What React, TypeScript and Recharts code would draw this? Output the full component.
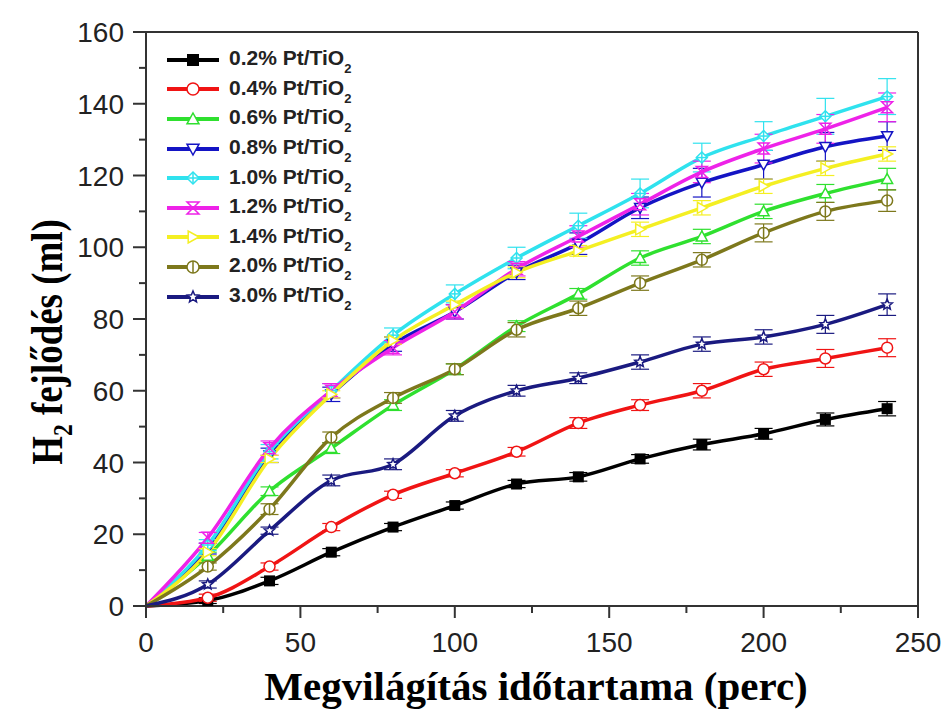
import { LineChart, Line, XAxis, YAxis, ErrorBar, Legend, ReferenceLine, Label } from 'recharts'

// Illumination time in minutes
const TIME = [0, 20, 40, 60, 80, 100, 120, 140, 160, 180, 200, 220, 240]

// H2 evolved (ml) per Pt loading, with standard deviations
const PT02 = [0, 1.5, 7, 15, 22, 28, 34, 36, 41, 45, 48, 52, 55]
const PT02_ERR = [0, 0.8, 1, 1, 1, 1, 1, 1.2, 1.2, 1.5, 1.5, 1.8, 2]
const PT04 = [0, 2.3, 11, 22, 31, 37, 43, 51, 56, 60, 66, 69, 72]
const PT04_ERR = [0, 1, 1, 1, 1, 1, 1.2, 1.5, 1.5, 2, 2, 2.5, 2.5]
const PT06 = [0, 14, 32, 44, 56, 66, 78, 87, 97, 103, 110, 115, 119]
const PT06_ERR = [0, 1, 1.2, 1.5, 1.5, 1.5, 1.5, 1.5, 2, 2, 2, 2.5, 3]
const PT08 = [0, 16, 42, 59, 73, 82, 93, 101, 111, 118, 123, 128, 131]
const PT08_ERR = [0, 1.5, 2, 2, 2, 2, 2, 3, 3, 4, 4, 4, 4]
const PT10 = [0, 17, 43, 60, 75.5, 87, 97, 106, 115, 125, 131, 136.5, 142]
const PT10_ERR = [0, 1.5, 2, 2, 2, 2.5, 3, 3.5, 4, 4, 4, 5, 5]
const PT12 = [0, 19, 44, 60, 72, 82, 94, 103, 112, 121, 127.5, 133, 139]
const PT12_ERR = [0, 1.5, 2, 2, 2, 2, 2, 3, 3, 3, 4, 4, 4]
const PT14 = [0, 15, 41, 59, 74, 84, 93, 99, 105, 111, 117, 122, 126]
const PT14_ERR = [0, 1, 1, 1, 1, 1, 1.5, 1.5, 2, 2, 2, 2, 2]
const PT20 = [0, 11, 27, 47, 58, 66, 77, 83, 90, 96.5, 104, 110, 113]
const PT20_ERR = [0, 1, 1.5, 1.5, 1.5, 1.5, 2, 2, 2, 2, 2.5, 2.5, 3]
const PT30 = [0, 6, 21, 35, 39.5, 53, 60, 63.5, 68, 73, 75, 78.5, 84]
const PT30_ERR = [0, 1, 1, 1.5, 1.5, 1.5, 1.5, 1.5, 2, 2, 2, 2.5, 3]

const X_TICKS = [0, 25, 50, 75, 100, 125, 150, 175, 200, 225, 250]
const Y_TICKS = [0, 10, 20, 30, 40, 50, 60, 70, 80, 90, 100, 110, 120, 130, 140, 150, 160]

const SERIES = [
  { key: 'pt02', name: '0.2%', color: '#000000', shape: 'square', values: PT02, errors: PT02_ERR },
  { key: 'pt04', name: '0.4%', color: '#f01414', shape: 'circle', values: PT04, errors: PT04_ERR },
  { key: 'pt06', name: '0.6%', color: '#2fe02f', shape: 'triangle', values: PT06, errors: PT06_ERR },
  { key: 'pt08', name: '0.8%', color: '#1414c4', shape: 'triangleDown', values: PT08, errors: PT08_ERR },
  { key: 'pt10', name: '1.0%', color: '#2fe2ee', shape: 'diamond', values: PT10, errors: PT10_ERR },
  { key: 'pt12', name: '1.2%', color: '#ee22e8', shape: 'hourglass', values: PT12, errors: PT12_ERR },
  { key: 'pt14', name: '1.4%', color: '#f4ef22', shape: 'triangleRight', values: PT14, errors: PT14_ERR },
  { key: 'pt20', name: '2.0%', color: '#7d781c', shape: 'circleBar', values: PT20, errors: PT20_ERR },
  { key: 'pt30', name: '3.0%', color: '#1a1a80', shape: 'star', values: PT30, errors: PT30_ERR },
]

const data = TIME.map((t, i) => {
  const row: Record<string, number> = { t }
  SERIES.forEach((s) => {
    row[s.key] = s.values[i]
    row[s.key + 'Err'] = s.errors[i]
  })
  return row
})

const SANS = '"Liberation Sans", Arial, sans-serif'
const SERIF = '"Liberation Serif", "Times New Roman", serif'
const AXIS = '#333333'

function Marker({ shape, color, cx, cy, r = 6 }: { shape: string; color: string; cx: number; cy: number; r?: number }) {
  const sw = 1.5
  switch (shape) {
    case 'square':
      return <rect x={cx - r} y={cy - r} width={2 * r} height={2 * r} fill={color} />
    case 'circle':
      return <circle cx={cx} cy={cy} r={r} fill="#fff" stroke={color} strokeWidth={sw} />
    case 'triangle':
      return <path d={`M${cx},${cy - r} L${cx + r},${cy + r * 0.8} L${cx - r},${cy + r * 0.8}Z`} fill="#fff" stroke={color} strokeWidth={sw} />
    case 'triangleDown':
      return <path d={`M${cx},${cy + r} L${cx + r},${cy - r * 0.8} L${cx - r},${cy - r * 0.8}Z`} fill="#fff" stroke={color} strokeWidth={sw} />
    case 'triangleRight':
      return <path d={`M${cx + r},${cy} L${cx - r * 0.8},${cy - r} L${cx - r * 0.8},${cy + r}Z`} fill="#fff" stroke={color} strokeWidth={sw} />
    case 'diamond':
      return (
        <g stroke={color} strokeWidth={sw}>
          <path d={`M${cx},${cy - r} L${cx + r},${cy} L${cx},${cy + r} L${cx - r},${cy}Z`} fill="#fff" />
          <line x1={cx} y1={cy - r} x2={cx} y2={cy + r} />
          <line x1={cx - r} y1={cy} x2={cx + r} y2={cy} />
        </g>
      )
    case 'hourglass':
      return (
        <path
          d={`M${cx - r},${cy - r} L${cx + r},${cy - r} L${cx - r},${cy + r} L${cx + r},${cy + r}Z`}
          fill="none"
          stroke={color}
          strokeWidth={sw}
        />
      )
    case 'circleBar':
      return (
        <g stroke={color} strokeWidth={sw}>
          <circle cx={cx} cy={cy} r={r} fill="#fff" />
          <line x1={cx} y1={cy - r} x2={cx} y2={cy + r} />
        </g>
      )
    case 'star': {
      const pts: string[] = []
      for (let k = 0; k < 10; k++) {
        const rad = k % 2 === 0 ? r : r * 0.45
        const a = -Math.PI / 2 + (k * Math.PI) / 5
        pts.push(`${cx + rad * Math.cos(a)},${cy + rad * Math.sin(a)}`)
      }
      return <polygon points={pts.join(' ')} fill="#fff" stroke={color} strokeWidth={sw} />
    }
    default:
      return null
  }
}

function XTick({ x, y, payload }: any) {
  const major = payload.value % 50 === 0
  return (
    <g>
      <line x1={x} y1={y} x2={x} y2={y + (major ? 12 : 7)} stroke={AXIS} strokeWidth={2} />
      {major && (
        <text x={x} y={y + 46} textAnchor="middle" fontFamily={SANS} fontSize={28} fill="#222">
          {payload.value}
        </text>
      )}
    </g>
  )
}

function YTick({ x, y, payload }: any) {
  const major = payload.value % 20 === 0
  return (
    <g>
      <line x1={x - (major ? 13 : 7)} y1={y} x2={x} y2={y} stroke={AXIS} strokeWidth={2} />
      {major && (
        <text x={x - 22} y={y + 10} textAnchor="end" fontFamily={SANS} fontSize={28} fill="#222">
          {payload.value}
        </text>
      )}
    </g>
  )
}

function XTitle({ viewBox }: any) {
  const cx = viewBox.x + viewBox.width / 2 + 4
  return (
    <text
      x={cx}
      y={viewBox.y + 94}
      textAnchor="middle"
      fontFamily={SERIF}
      fontWeight="bold"
      fontSize={41}
      fill="#000"
    >
      Megvilágítás időtartama (perc)
    </text>
  )
}

function YTitle() {
  return (
    <text
      transform="translate(62,342) scale(1,0.84) rotate(-90)"
      textAnchor="middle"
      fontFamily={SERIF}
      fontWeight="bold"
      fontSize={44}
      fill="#000"
    >
      H<tspan fontSize={28} dy={10}>2</tspan>
      <tspan dy={-10}> fejlődés (ml)</tspan>
    </text>
  )
}

function LegendBox() {
  return (
    <div style={{ fontFamily: SANS, fontWeight: 'bold', fontSize: 21, color: '#222' }}>
      {SERIES.map((s) => (
        <div key={s.key} style={{ display: 'flex', alignItems: 'center', height: 29.6 }}>
          <svg width={56} height={20}>
            <line x1={1} x2={53} y1={10} y2={10} stroke={s.color} strokeWidth={4} />
            <Marker shape={s.shape} color={s.color} cx={27} cy={10} r={6} />
          </svg>
          <span style={{ marginLeft: 7, whiteSpace: 'nowrap', lineHeight: '22px' }}>
            {s.name} Pt/TiO
            <span style={{ fontSize: 13, position: 'relative', top: 8 }}>2</span>
          </span>
        </div>
      ))}
    </div>
  )
}

export default function App() {
  return (
    <div style={{ position: 'absolute', left: 0, top: 0, background: '#fff' }}>
      <LineChart width={949} height={711} data={data} margin={{ top: 32, right: 31, bottom: 0, left: 0 }}>
        <XAxis
          dataKey="t"
          type="number"
          domain={[0, 250]}
          ticks={X_TICKS}
          interval={0}
          tickSize={0}
          tickMargin={0}
          tickLine={false}
          tick={<XTick />}
          axisLine={{ stroke: AXIS, strokeWidth: 2 }}
          height={105}
        >
          <Label content={<XTitle />} />
        </XAxis>
        <YAxis
          type="number"
          domain={[0, 160]}
          ticks={Y_TICKS}
          interval={0}
          tickSize={0}
          tickMargin={0}
          tickLine={false}
          tick={<YTick />}
          axisLine={{ stroke: AXIS, strokeWidth: 2 }}
          width={146}
        >
          <Label content={<YTitle />} />
        </YAxis>
        <ReferenceLine y={160} stroke={AXIS} strokeWidth={2} />
        <ReferenceLine x={250} stroke={AXIS} strokeWidth={2} />
        {SERIES.map((s) => (
          <Line
            key={s.key}
            dataKey={s.key}
            type="monotone"
            stroke={s.color}
            strokeWidth={3.5}
            isAnimationActive={false}
            dot={(p: any) =>
              p.index === 0 ? (
                <g key={`${s.key}-${p.index}`} />
              ) : (
                <Marker key={`${s.key}-${p.index}`} shape={s.shape} color={s.color} cx={p.cx} cy={p.cy} r={5.5} />
              )
            }
            activeDot={false}
          >
            <ErrorBar dataKey={s.key + 'Err'} width={9} strokeWidth={1.2} stroke={s.color} direction="y" isAnimationActive={false} />
          </Line>
        ))}
        <Legend
          layout="vertical"
          align="center"
          verticalAlign="middle"
          content={<LegendBox />}
          wrapperStyle={{ left: 166, top: 45, width: 'auto', height: 'auto' }}
        />
      </LineChart>
    </div>
  )
}
